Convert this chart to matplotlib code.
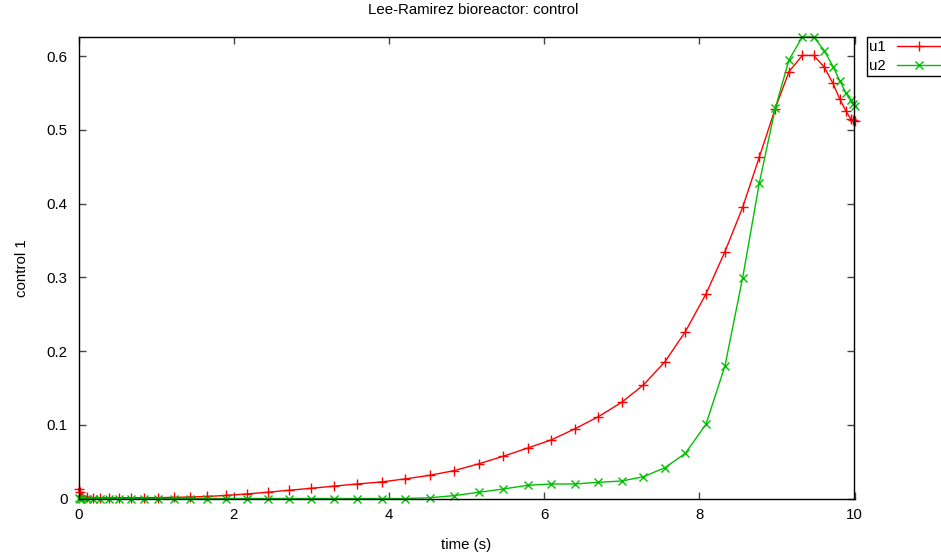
import matplotlib
matplotlib.use("Agg")
import matplotlib.pyplot as plt

# collocation times (s)
t = [0.0, 0.015, 0.05, 0.113, 0.191, 0.277, 0.393, 0.526, 0.677, 0.844,
     1.025, 1.225, 1.435, 1.66, 1.907, 2.167, 2.44, 2.715, 2.995, 3.295,
     3.593, 3.905, 4.205, 4.527, 4.837, 5.163, 5.473, 5.79, 6.09, 6.40,
     6.70, 7.00, 7.28, 7.558, 7.82, 8.086, 8.331, 8.559, 8.773, 8.979,
     9.156, 9.327, 9.474, 9.611, 9.723, 9.809, 9.887, 9.95, 9.985, 10.0]

u1 = [0.013, 0.009, 0.004, 0.002, 0.0012, 0.001, 0.001, 0.001, 0.001, 0.0011,
      0.0012, 0.0015, 0.002, 0.0028, 0.0042, 0.0062, 0.0085, 0.0112, 0.0138, 0.0168,
      0.0197, 0.0225, 0.0265, 0.0315, 0.0377, 0.0472, 0.0573, 0.0685, 0.0794, 0.0947,
      0.111, 0.1305, 0.154, 0.1856, 0.2263, 0.2775, 0.335, 0.395, 0.463, 0.529,
      0.579, 0.601, 0.601, 0.585, 0.563, 0.542, 0.526, 0.515, 0.513, 0.512]

u2 = [0.001, 0.0, 0.0, 0.0, 0.0, 0.0, 0.0, 0.0, 0.0, 0.0,
      0.0, 0.0, 0.0, 0.0, 0.0, 0.0, 0.0, 0.0, 0.0, 0.0,
      0.0, 0.0, 0.0, 0.001, 0.0039, 0.0085, 0.0129, 0.0179, 0.0197, 0.0197,
      0.022, 0.0237, 0.0296, 0.0418, 0.0613, 0.1007, 0.18, 0.2996, 0.4277, 0.5294,
      0.595, 0.626, 0.626, 0.6076, 0.5859, 0.5669, 0.5506, 0.5407, 0.5353, 0.5326]

xticks = [0, 2, 4, 6, 8, 10]
yticks = [0, 0.1, 0.2, 0.3, 0.4, 0.5, 0.6]
ytick_labels = ['0', '0.1', '0.2', '0.3', '0.4', '0.5', '0.6']

plt.rcParams['font.family'] = ['Liberation Sans', 'DejaVu Sans']
fs = 10.8

fig = plt.figure(figsize=(9.41, 5.58), dpi=100)
ax = fig.add_axes([78.5 / 941, 1 - 498.5 / 558, 776 / 941, 461.5 / 558])

ax.plot(t, u1, color='#ff0000', lw=1, marker='+', ms=6.8, mew=1, label='u1', clip_on=False)
ax.plot(t, u2, color='#00c000', lw=1, marker='x', ms=6.0, mew=1, label='u2', clip_on=False)

ax.set_xlim(0, 10)
ax.set_ylim(0, max(u2))
ax.set_xticks(xticks)
ax.set_xticklabels([str(v) for v in xticks])
ax.set_yticks(yticks)
ax.set_yticklabels(ytick_labels)
ax.tick_params(direction='in', length=5, width=1, color='#444444',
               top=True, right=True, labelsize=fs)
ax.tick_params(axis='y', pad=8)
ax.tick_params(axis='x', pad=7)
for s in ax.spines.values():
    s.set_linewidth(1)
    s.set_color('black')

fig.text(473.5 / 941, 1 - 10 / 558, 'Lee-Ramirez bioreactor: control',
         ha='center', va='center', fontsize=fs)
ax.set_xlabel('time (s)', fontsize=fs, va='center')
ax.xaxis.set_label_coords(0.5, (498.5 - 545) / 461.5)
ax.set_ylabel('control 1', fontsize=fs, va='center')
ax.yaxis.set_label_coords((22 - 78.5) / 776, 0.5)

leg = fig.legend(loc='upper left', bbox_to_anchor=(866.5 / 941, 1 - 37.3 / 558),
                 markerfirst=False, handlelength=2.9, fancybox=False,
                 framealpha=1, edgecolor='black', fontsize=fs,
                 borderpad=0.2, labelspacing=0.3, handletextpad=0.7,
                 borderaxespad=0)
leg.get_frame().set_linewidth(1)

fig.savefig('out.png', dpi=100)
